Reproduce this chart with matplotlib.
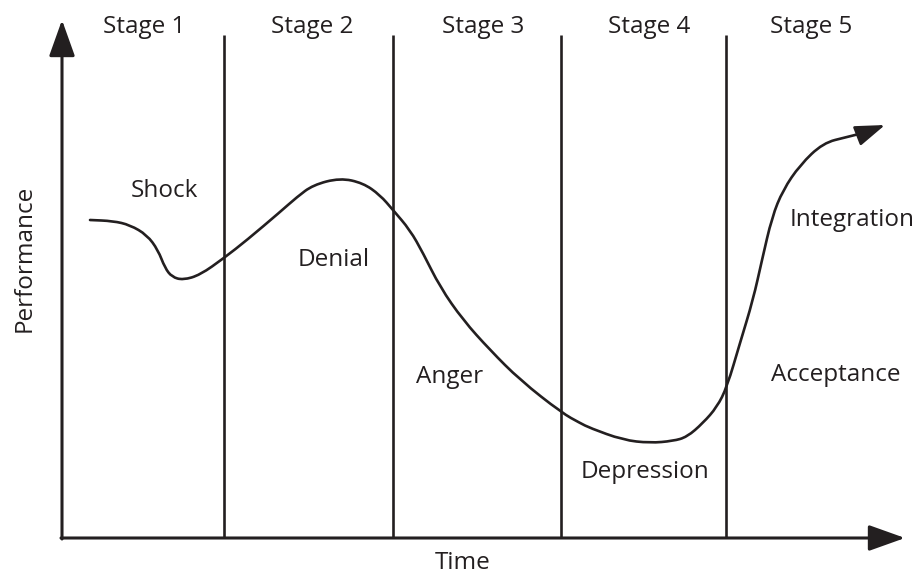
import numpy as np
import matplotlib.pyplot as plt
from matplotlib.path import Path
from matplotlib.patches import PathPatch

# %%
# values: time runs right from the origin, performance up from the time axis
stage_bounds = [162, 331, 499, 664]
stage_names = ['Stage 1', 'Stage 2', 'Stage 3', 'Stage 4', 'Stage 5']
stage_centers = [82, 250, 421, 587, 749]

curve_t = [28, 51, 68, 85, 96, 103, 110, 121, 138, 162, 185, 218, 235, 251, 278,
           301, 318, 331, 348, 361, 378, 401, 428, 458, 500, 518, 528, 561, 588,
           611, 625, 641, 655, 665, 678, 691, 700, 710, 721, 738, 761, 785, 805]
curve_p = [318, 317, 313, 303, 288, 270, 261, 258, 263, 280, 298, 326, 341, 353, 360,
           355, 343, 328, 308, 285, 251, 218, 188, 158, 125, 115, 110, 98, 95,
           97, 101, 115, 131, 151, 195, 238, 278, 321, 348, 373, 395, 401, 406]
curve_tip = (823, 413)

phase_names = ['Shock', 'Denial', 'Anger', 'Depression', 'Acceptance', 'Integration']
phase_t = [102, 272, 388, 583, 774, 790]
phase_p = [347, 278, 161, 66, 163, 318]

ink = '#231f20'
plt.rcParams['font.family'] = ['Open Sans', 'DejaVu Sans']
fs = 17.5

# %%
fig = plt.figure(figsize=(9.19, 5.78), dpi=100)
ax = fig.add_axes([0, 0, 1, 1])
ax.set_xlim(-62, 857)
ax.set_ylim(-40, 538)
ax.axis('off')

# axes with arrow heads
arr = dict(arrowstyle='-|>,head_length=1.4,head_width=0.5', color=ink, lw=2.2,
           shrinkA=0, shrinkB=0, mutation_scale=16)
ax.annotate('', xy=(0, 518), xytext=(0, -1), arrowprops=arr)
ax.annotate('', xy=(843, 0), xytext=(-1, 0), arrowprops=arr)

for b in stage_bounds:
    ax.plot([b, b], [0, 503], color=ink, lw=1.9, solid_capstyle='butt')

for name, c in zip(stage_names, stage_centers):
    ax.text(c, 511, name, ha='center', va='center', fontsize=fs, color=ink)

# smooth the read points: quadratic bezier with midpoints as anchors
pts = np.column_stack([curve_t, curve_p]).astype(float)
mids = (pts[:-1] + pts[1:]) / 2
verts = [pts[0], mids[0]]
codes = [Path.MOVETO, Path.LINETO]
for i in range(1, len(pts) - 1):
    verts += [pts[i], mids[i]]
    codes += [Path.CURVE3, Path.CURVE3]
verts.append(pts[-1])
codes.append(Path.LINETO)
ax.add_patch(PathPatch(Path(verts, codes), fill=False, edgecolor=ink, lw=1.9,
                       joinstyle='round', capstyle='round'))
ax.annotate('', xy=curve_tip, xytext=(curve_t[-1], curve_p[-1]),
            arrowprops=dict(arrowstyle='-|>,head_length=1.3,head_width=0.45', color=ink,
                            lw=1.9, shrinkA=0, shrinkB=0, mutation_scale=14))

for name, t, p in zip(phase_names, phase_t, phase_p):
    ax.text(t, p, name, ha='center', va='center', fontsize=fs, color=ink)

ax.text(401, -25, 'Time', ha='center', va='center', fontsize=fs, color=ink)
ax.text(-37, 280, 'Performance', ha='center', va='center', rotation=90, fontsize=fs, color=ink)

fig.savefig('out.png', dpi=100, facecolor='white')
plt.close(fig)
